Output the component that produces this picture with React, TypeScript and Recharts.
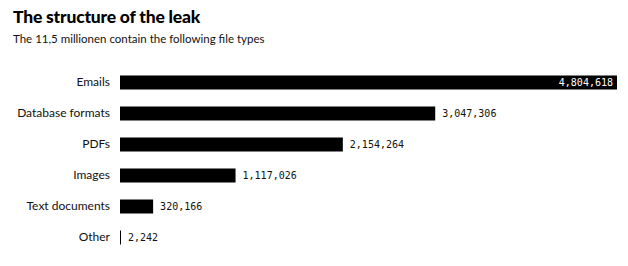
import React from "react";
import { BarChart, Bar, XAxis, YAxis, LabelList } from "recharts";

const categories = ["Emails", "Database formats", "PDFs", "Images", "Text documents", "Other"];
const fileCounts = [4804618, 3047306, 2154264, 1117026, 320166, 2242];
const title = "The structure of the leak";
const subtitle = "The 11,5 millionen contain the following file types";

const data = categories.map((name, i) => ({ name, value: fileCounts[i] }));
const maxValue = Math.max(...fileCounts);

const fmt = (v: number) => v.toLocaleString("en-US");

const CategoryTick = (props: any) => {
  const { x, y, payload } = props;
  return (
    <text
      x={x}
      y={y}
      dy={4}
      textAnchor="end"
      fill="#111"
      fontFamily="Lato, 'Open Sans', sans-serif"
      fontSize={12}
    >
      {payload.value}
    </text>
  );
};

const ValueLabel = (props: any) => {
  const { x, y, width, height, value } = props;
  const inside = value >= maxValue * 0.9;
  const cy = y + height / 2;
  return (
    <text
      x={inside ? x + width - 4 : x + width + 7}
      y={cy}
      dy={3.5}
      textAnchor={inside ? "end" : "start"}
      fill={inside ? "#fff" : "#111"}
      fontFamily="'DejaVu Sans Mono', monospace"
      fontSize={10}
    >
      {fmt(value)}
    </text>
  );
};

export default function App() {
  return (
    <div
      style={{
        position: "relative",
        width: 628,
        height: 266,
        margin: -8,
        background: "#fff",
        overflow: "hidden",
      }}
    >
      <div
        style={{
          position: "absolute",
          left: 13,
          top: 6,
          fontFamily: "Lato, sans-serif",
          fontWeight: 900,
          fontSize: 17.5,
          color: "#000",
          whiteSpace: "nowrap",
          letterSpacing: -0.2,
        }}
      >
        {title}
      </div>
      <div
        style={{
          position: "absolute",
          left: 13,
          top: 32,
          fontFamily: "Lato, sans-serif",
          fontSize: 11.5,
          color: "#111",
          whiteSpace: "nowrap",
        }}
      >
        {subtitle}
      </div>
      <div style={{ position: "absolute", left: 0, top: 0 }}>
        <BarChart
          width={628}
          height={266}
          data={data}
          layout="vertical"
          margin={{ top: 66.5, right: 11, bottom: 13.5, left: 0 }}
          barCategoryGap={0}
        >
          <XAxis type="number" domain={[0, maxValue]} hide />
          <YAxis
            type="category"
            dataKey="name"
            width={120}
            axisLine={false}
            tickLine={false}
            tickMargin={4}
            tick={<CategoryTick />}
            interval={0}
          />
          <Bar
            dataKey="value"
            fill="#000"
            barSize={14}
            minPointSize={1}
            isAnimationActive={false}
          >
            <LabelList dataKey="value" content={<ValueLabel />} />
          </Bar>
        </BarChart>
      </div>
    </div>
  );
}
